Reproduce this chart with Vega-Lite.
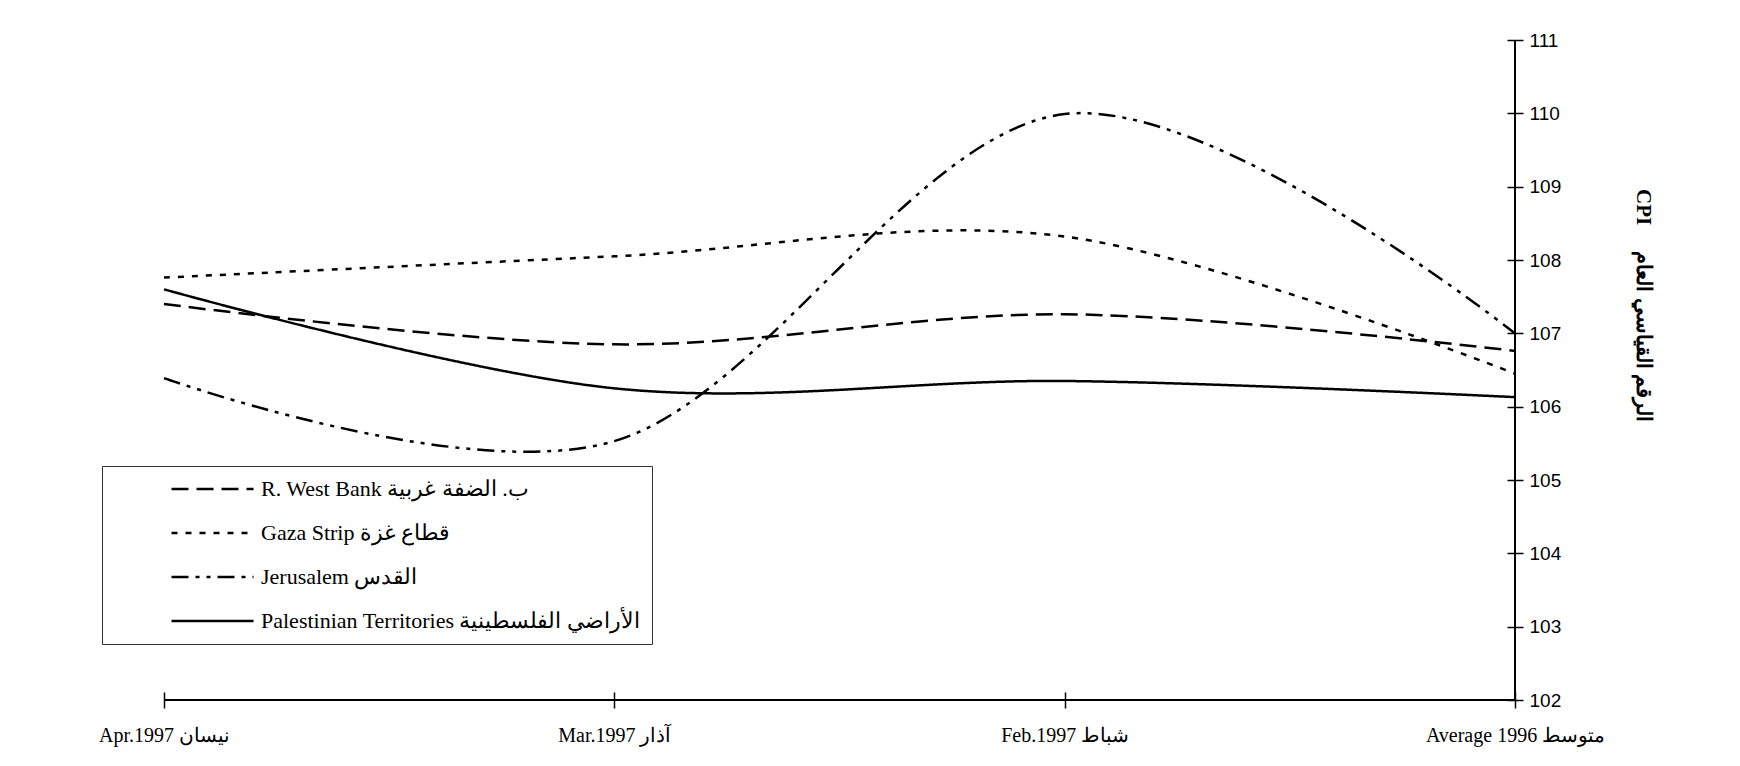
{
  "$schema": "https://vega.github.io/schema/vega-lite/v6.json",
  "width": 1351,
  "height": 660,
  "autosize": {"type": "none"},
  "padding": {"left": 164, "top": 40, "right": 225, "bottom": 66},
  "background": "white",
  "config": {"view": {"stroke": null}},
  "data": {
    "values": [
      {"series": "R. West Bank ب. الضفة غربية", "period": "Apr.1997 نيسان", "value": 107.40},
      {"series": "R. West Bank ب. الضفة غربية", "period": "Mar.1997 آذار", "value": 106.85},
      {"series": "R. West Bank ب. الضفة غربية", "period": "Feb.1997 شباط", "value": 107.26},
      {"series": "R. West Bank ب. الضفة غربية", "period": "Average 1996 متوسط", "value": 106.76},
      {"series": "Gaza Strip قطاع غزة", "period": "Apr.1997 نيسان", "value": 107.76},
      {"series": "Gaza Strip قطاع غزة", "period": "Mar.1997 آذار", "value": 108.05},
      {"series": "Gaza Strip قطاع غزة", "period": "Feb.1997 شباط", "value": 108.32},
      {"series": "Gaza Strip قطاع غزة", "period": "Average 1996 متوسط", "value": 106.45},
      {"series": "Jerusalem القدس", "period": "Apr.1997 نيسان", "value": 106.39},
      {"series": "Jerusalem القدس", "period": "Mar.1997 آذار", "value": 105.53},
      {"series": "Jerusalem القدس", "period": "Feb.1997 شباط", "value": 109.99},
      {"series": "Jerusalem القدس", "period": "Average 1996 متوسط", "value": 107.00},
      {"series": "Palestinian Territories الأراضي الفلسطينية", "period": "Apr.1997 نيسان", "value": 107.60},
      {"series": "Palestinian Territories الأراضي الفلسطينية", "period": "Mar.1997 آذار", "value": 106.25},
      {"series": "Palestinian Territories الأراضي الفلسطينية", "period": "Feb.1997 شباط", "value": 106.35},
      {"series": "Palestinian Territories الأراضي الفلسطينية", "period": "Average 1996 متوسط", "value": 106.13}
    ]
  },
  "layer": [
    {
      "mark": {"type": "line", "interpolate": "cardinal", "tension": 0, "strokeWidth": 2.5, "color": "black"},
      "encoding": {
        "x": {
          "field": "period", "type": "nominal",
          "scale": {"type": "point", "padding": 0, "domain": ["Apr.1997 نيسان", "Mar.1997 آذار", "Feb.1997 شباط", "Average 1996 متوسط"]},
          "axis": {"title": null, "domain": false, "offset": -8, "tickSize": 16, "tickColor": "black", "tickWidth": 1.5, "labelFont": "Liberation Serif", "labelFontSize": 20, "labelColor": "black", "labelPadding": 17, "labelAngle": 0, "labelOverlap": false, "grid": false}
        },
        "y": {
          "field": "value", "type": "quantitative",
          "scale": {"domain": [102, 111], "nice": false, "zero": false},
          "axis": {"orient": "right", "values": [102, 103, 104, 105, 106, 107, 108, 109, 110, 111], "format": "d", "domain": false, "offset": -8, "tickSize": 16, "tickColor": "black", "tickWidth": 1.5, "labelFont": "Liberation Sans", "labelFontSize": 19, "labelColor": "black", "labelPadding": 6, "labelOverlap": false, "grid": false,
            "title": "CPI\u00a0\u00a0\u00a0\u00a0 الرقم القياسي العام", "titleFont": "Liberation Serif", "titleFontWeight": "bold", "titleFontSize": 21, "titleColor": "black", "titleAngle": 90, "titleX": 135, "titleY": 265, "titleAlign": "center", "titleBaseline": "middle"}
        },
        "strokeDash": {
          "field": "series", "type": "nominal",
          "scale": {
            "domain": ["R. West Bank ب. الضفة غربية", "Gaza Strip قطاع غزة", "Jerusalem القدس", "Palestinian Territories الأراضي الفلسطينية"],
            "range": [[17, 8], [6, 8], [17, 7, 4, 7, 4, 7], [1, 0]]
          },
          "legend": {"orient": "none", "legendX": -62, "legendY": 426, "title": " ", "titleOrient": "left", "titlePadding": 57, "titleFontSize": 21, "padding": 11, "strokeColor": "#333333", "fillColor": "white", "symbolType": "stroke", "symbolSize": 6724, "symbolStrokeWidth": 2.5, "symbolStrokeColor": "black", "clipHeight": 24, "labelFont": "Liberation Serif", "labelFontSize": 22, "labelColor": "black", "labelOffset": 6, "rowPadding": 20, "labelLimit": 600}
        }
      }
    },
    {
      "mark": {"type": "rule", "color": "black", "strokeWidth": 1.5},
      "encoding": {"x": {"datum": "Apr.1997 نيسان"}, "x2": {"datum": "Average 1996 متوسط"}, "y": {"datum": 102}}
    },
    {
      "mark": {"type": "rule", "color": "black", "strokeWidth": 1.5},
      "encoding": {"x": {"datum": "Average 1996 متوسط"}, "y": {"datum": 102}, "y2": {"datum": 111}}
    }
  ]
}
